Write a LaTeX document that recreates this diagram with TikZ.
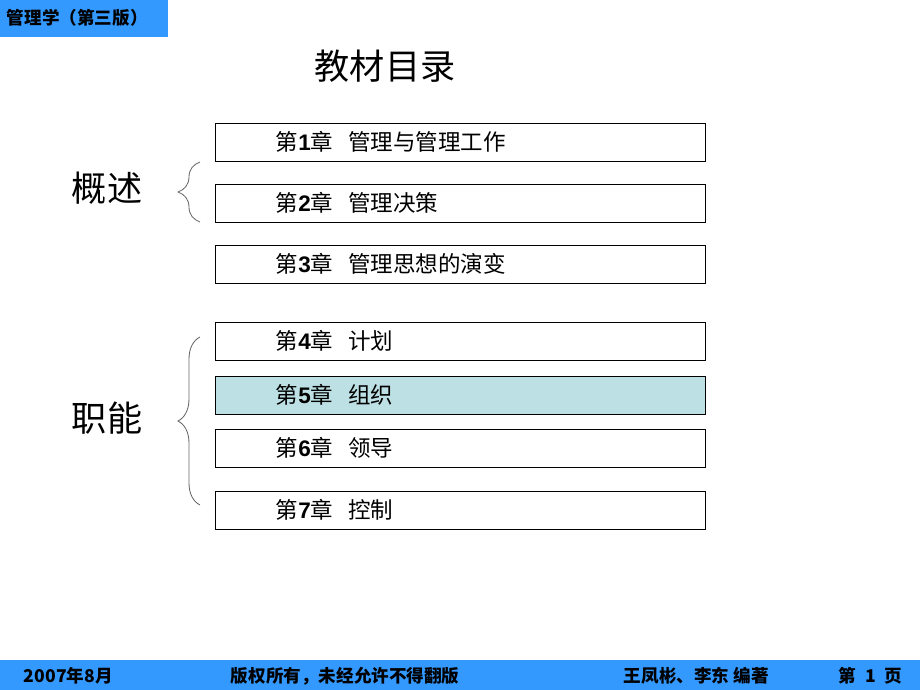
\documentclass[tikz,border=0pt]{standalone}
\usepackage{fontspec}
\setmainfont{Liberation Sans}
\newfontfamily\cjk{Noto Sans CJK SC}
\usetikzlibrary{decorations.pathreplacing, positioning}

\definecolor{barblue}{RGB}{51,153,255}
\definecolor{hilite}{RGB}{189,224,228}

% chapter line: 第N章  title
\newcommand{\chapline}[2]{{\cjk 第}{\bfseries #1}{\cjk 章}\hspace{0.65em}{\cjk #2}}

\begin{document}
\begin{tikzpicture}[
        x=0.025cm, y=-0.025cm,
        chapbox/.style={rectangle, draw, line width=0.6pt, minimum width=12.25cm, minimum height=0.95cm,
            inner xsep=1.525cm, text width=9.2cm, align=left, font=\fontsize{16}{18}\selectfont},
        sidelabel/.style={font=\cjk\fontsize{25}{28}\selectfont},
        bar/.style={fill=barblue, draw=none},
        bartext/.style={font=\cjk\bfseries\fontsize{12.5}{14}\selectfont},
        curly/.style={decorate, decoration={brace, amplitude=0.55cm}, draw=black!60, line width=0.6pt}
    ]
        \useasboundingbox (0,0) rectangle (920,690);

        % Header and footer bars
        \node[bar, minimum width=4.2cm, minimum height=0.925cm, anchor=north west] (header) at (0,0) {};
        \node[bartext, anchor=west] (course) at (2,18) {管理学（第三版）};
        \node[bar, minimum width=23cm, minimum height=0.75cm, anchor=south west] (footer) at (0,690) {};
        \node[bartext, anchor=west] (date) at (19,676) {2007年8月};
        \node[bartext, anchor=west] (rights) at (226,676) {版权所有，未经允许不得翻版};
        \node[bartext, anchor=west] (authors) at (619,676) {王凤彬、李东 编著};
        \node[bartext, anchor=west] (page) at (834,676) {第\hspace{0.5em}1\hspace{0.5em}页};

        % Title
        \node[font=\cjk\fontsize{25}{28}\selectfont] (title) at (385,66) {教材目录};

        % Chapters
        \node[chapbox] (ch1) at (460,142) {\chapline{1}{管理与管理工作}};
        \node[chapbox] (ch2) at (460,203) {\chapline{2}{管理决策}};
        \node[chapbox] (ch3) at (460,264) {\chapline{3}{管理思想的演变}};
        \node[chapbox] (ch4) at (460,341) {\chapline{4}{计划}};
        \node[chapbox, fill=hilite] (ch5) at (460,395) {\chapline{5}{组织}};
        \node[chapbox] (ch6) at (460,448) {\chapline{6}{领导}};
        \node[chapbox] (ch7) at (460,510) {\chapline{7}{控制}};

        % Groups
        \coordinate (g1top) at (200,162);
        \coordinate (g1bot) at (200,222);
        \coordinate (g2top) at (200,337);
        \coordinate (g2bot) at (200,505);
        \draw[curly] (g1bot) -- (g1top);
        \draw[curly] (g2bot) -- (g2top);
        \node[sidelabel] (intro) at (107,188) {概述};
        \node[sidelabel] (func) at (107,418) {职能};
    \end{tikzpicture}
\end{document}
